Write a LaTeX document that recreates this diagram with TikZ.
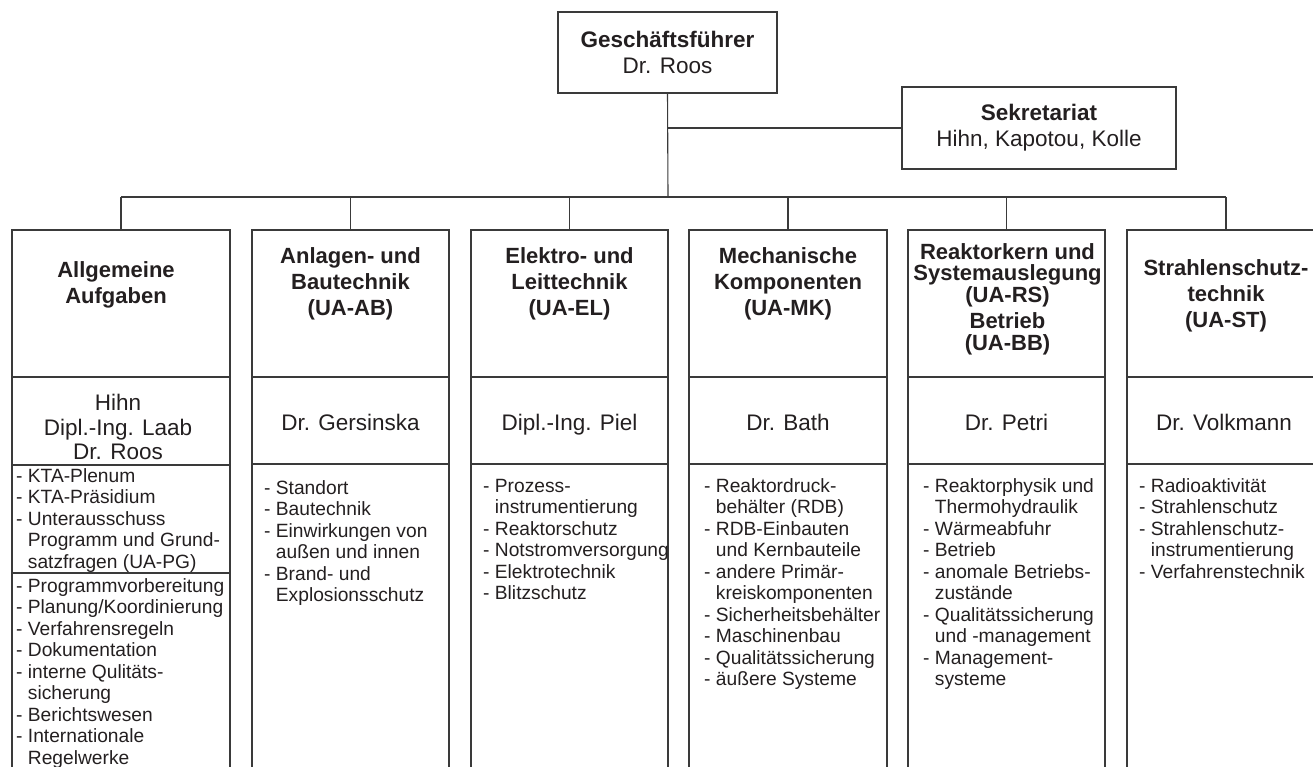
\documentclass[tikz,border=0pt]{standalone}
\usepackage{fontspec}
\setmainfont{Liberation Sans}
\definecolor{linec}{HTML}{3A3A3A}
\definecolor{txtc}{HTML}{231F20}
\newcommand\ind{\phantom{- }}
\tikzset{
  box/.style={draw=linec, line width=1.1pt, inner sep=0pt},
  topbox/.style={box, align=center, text=txtc, font=\fontsize{22.5}{26}\selectfont},
  ttl/.style={font=\fontsize{22}{26}\selectfont\bfseries, align=center, text=txtc, inner sep=0pt},
  nm/.style={font=\fontsize{22.5}{24}\selectfont, align=center, text=txtc, inner sep=0pt, text height=16.5pt, text depth=4.5pt},
  nmm/.style={font=\fontsize{22.5}{24.5}\selectfont, align=center, text=txtc, inner sep=0pt},
  lst/.style={font=\fontsize{19.2}{21.5}\selectfont, align=left, text=txtc, inner sep=0pt, anchor=north west},
  conn/.style={draw=linec, line width=1.1pt},
}
\begin{document}
\begin{tikzpicture}[x=1pt,y=-1pt]
\useasboundingbox (0,0) rectangle (1313,766);
\clip (0,0) rectangle (1313,766);
% top boxes
\node[topbox, minimum width=219pt, minimum height=81pt] (gf) at (667.5,52.5) {\textbf{Geschäftsführer}\\Dr. Roos};
\node[topbox, minimum width=274pt, minimum height=82pt] (sek) at (1039,128) {\textbf{Sekretariat}\\Hihn, Kapotou, Kolle};
% title boxes
\node[box, minimum width=218pt, minimum height=147pt] (t1) at (121,303.5) {};
\node[box, minimum width=197pt, minimum height=147pt] (t2) at (350.5,303.5) {};
\node[box, minimum width=197pt, minimum height=147pt] (t3) at (569.5,303.5) {};
\node[box, minimum width=198pt, minimum height=147pt] (t4) at (788,303.5) {};
\node[box, minimum width=197pt, minimum height=147pt] (t5) at (1006.5,303.5) {};
\node[box, minimum width=198pt, minimum height=147pt] (t6) at (1226,303.5) {};
% name boxes
\node[box, minimum width=218pt, minimum height=88pt] (n1) at (121,421) {};
\node[box, minimum width=197pt, minimum height=87pt] (n2) at (350.5,420.5) {};
\node[box, minimum width=197pt, minimum height=87pt] (n3) at (569.5,420.5) {};
\node[box, minimum width=198pt, minimum height=87pt] (n4) at (788,420.5) {};
\node[box, minimum width=197pt, minimum height=87pt] (n5) at (1006.5,420.5) {};
\node[box, minimum width=198pt, minimum height=87pt] (n6) at (1226,420.5) {};
% list boxes
\node[box, minimum width=218pt, minimum height=108pt] (l1a) at (121,519) {};
\node[box, minimum width=218pt, minimum height=207pt] (l1b) at (121,676.5) {};
\node[box, minimum width=197pt, minimum height=316pt] (l2) at (350.5,622) {};
\node[box, minimum width=197pt, minimum height=316pt] (l3) at (569.5,622) {};
\node[box, minimum width=198pt, minimum height=316pt] (l4) at (788,622) {};
\node[box, minimum width=197pt, minimum height=316pt] (l5) at (1006.5,622) {};
\node[box, minimum width=198pt, minimum height=316pt] (l6) at (1226,622) {};
% connectors
\coordinate (bus) at (668,197);
\draw[conn] (gf.south) -- (bus);
\draw[conn] (gf.south |- sek.west) -- (sek.west);
\draw[conn] (bus -| t1.north) -- (bus -| t6.north);
\foreach \nn in {t1,t2,t3,t4,t5,t6} \draw[conn] (bus -| \nn.north) -- (\nn.north);
% titles
\node[ttl] (tt1) at (116,285) {Allgemeine\\Aufgaben};
\node[ttl] (tt2) at (350.5,284) {Anlagen- und\\Bautechnik\\(UA-AB)};
\node[ttl] (tt3) at (569.5,284) {Elektro- und\\Leittechnik\\(UA-EL)};
\node[ttl] (tt4) at (788,284) {Mechanische\\Komponenten\\(UA-MK)};
\node[ttl, font=\fontsize{22}{21.5}\selectfont\bfseries] (tt5) at (1007.5,299) {Reaktorkern und\\Systemauslegung\\(UA-RS)\\[5pt]Betrieb\\(UA-BB)};
\node[ttl] (tt6) at (1226,296) {Strahlenschutz-\\technik\\(UA-ST)};
% names
\node[nmm] (nm1) at (118,427) {Hihn\\Dipl.-Ing. Laab\\Dr. Roos};
\node[nm] (nm2) at (350.5,424) {Dr. Gersinska};
\node[nm] (nm3) at (569.5,424) {Dipl.-Ing. Piel};
\node[nm] (nm4) at (788,424) {Dr. Bath};
\node[nm] (nm5) at (1006.5,424) {Dr. Petri};
\node[nm] (nm6) at (1224,424) {Dr. Volkmann};
% lists
\node[lst] (ls1a) at (16,467) {\strut- KTA-Plenum\\- KTA-Präsidium\\- Unterausschuss\\\ind Programm und Grund-\\\ind satzfragen (UA-PG)};
\node[lst] (ls1b) at (16,577) {\strut- Programmvorbereitung\\- Planung/Koordinierung\\- Verfahrensregeln\\- Dokumentation\\- interne Qulitäts-\\\ind sicherung\\- Berichtswesen\\- Internationale\\\ind Regelwerke};
\node[lst] (ls2) at (264,479) {\strut- Standort\\- Bautechnik\\- Einwirkungen von\\\ind außen und innen\\- Brand- und\\\ind Explosionsschutz};
\node[lst] (ls3) at (483,477) {\strut- Prozess-\\\ind instrumentierung\\- Reaktorschutz\\- Notstromversorgung\\- Elektrotechnik\\- Blitzschutz};
\node[lst] (ls4) at (704,477) {\strut- Reaktordruck-\\\ind behälter (RDB)\\- RDB-Einbauten\\\ind und Kernbauteile\\- andere Primär-\\\ind kreiskomponenten\\- Sicherheitsbehälter\\- Maschinenbau\\- Qualitätssicherung\\- äußere Systeme};
\node[lst] (ls5) at (923,477) {\strut- Reaktorphysik und\\\ind Thermohydraulik\\- Wärmeabfuhr\\- Betrieb\\- anomale Betriebs-\\\ind zustände\\- Qualitätssicherung\\\ind und -management\\- Management-\\\ind systeme};
\node[lst] (ls6) at (1139,477) {\strut- Radioaktivität\\- Strahlenschutz\\- Strahlenschutz-\\\ind instrumentierung\\- Verfahrenstechnik};
\end{tikzpicture}
\end{document}
